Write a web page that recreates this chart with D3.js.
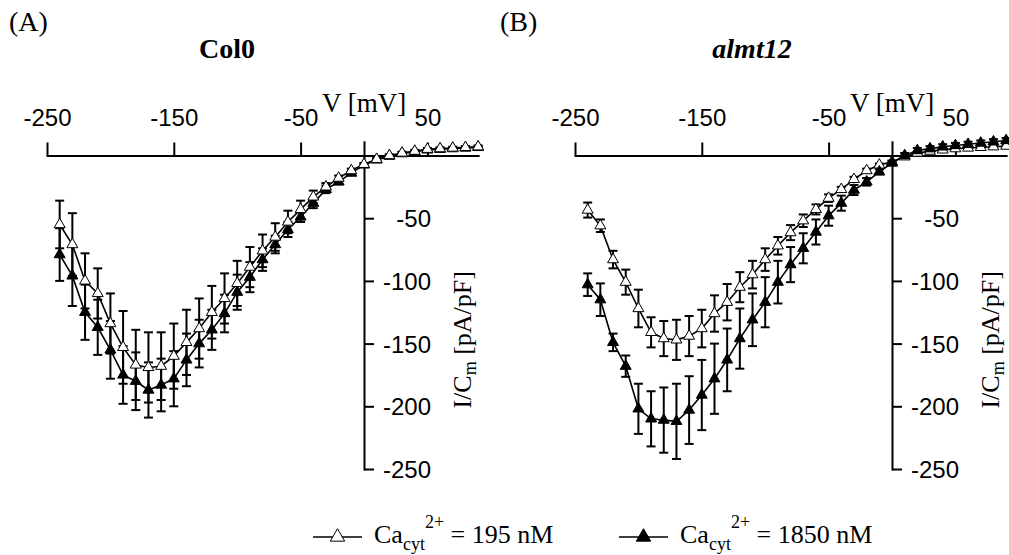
<!DOCTYPE html>
<html>
<head>
<meta charset="utf-8">
<script src="https://cdn.jsdelivr.net/npm/d3@7"></script>
<style>
  body { margin: 0; background: #fff; }
  svg { display: block; }
  .serif { font-family: "Liberation Serif", "Times New Roman", serif; fill: #000; }
  .tick text { font-family: "Liberation Sans", Arial, sans-serif; font-size: 24px; fill: #000; }
</style>
</head>
<body>
<div id="chart"></div>
<script>
// membrane voltage steps [mV]
const voltage = [-240, -230, -220, -210, -200, -190, -180, -170, -160, -150, -140, -130, -120, -110, -100,
  -90, -80, -70, -60, -50, -40, -30, -20, -10, 0, 10, 20, 30, 40, 50, 60, 70, 80, 90];

// Col0, Ca 195 nM (open triangles)
const col0Low = [-55, -71, -100, -110, -134, -153, -167, -169, -168, -160, -149, -138, -125, -114, -102,
  -89, -76, -65, -53, -43, -33, -25, -18, -12, -7, -3, 0, 2, 3.5, 5, 5.5, 6, 6.5, 7];
const col0LowErr = [19, 25, 22, 20, 24, 29, 28, 28, 27, 26, 26, 24, 21, 20, 18,
  16, 13, 11, 9, 7, 5, 3, 2, 1.5, 1, 1, 1, 1, 1, 1, 1, 1, 1, 1];
// Col0, Ca 1850 nM (filled triangles)
const col0High = [-79, -96, -125, -137, -155, -175, -180, -187, -183, -178, -163, -150, -139, -126, -109,
  -97, -83, -71, -59, -49, -38, -27, -21, -14, -7.5, -3.5, -0.5, 1.5, 3, 4.5, 5, 5.5, 6, 6.5];
const col0HighErr = [21, 24, 22, 22, 23, 23, 23, 22, 21, 22, 21, 19, 16, 15, 14,
  12, 9, 7, 6, 4, 4, 3, 2, 1.5, 1, 1, 1, 1, 1, 1, 1, 1, 1, 1];

// almt12, Ca 195 nM
const almLow = [-43.5, -56, -83, -101, -122, -141, -146, -147, -144, -138, -126, -117, -105, -95, -83,
  -72, -61.5, -52, -43, -34, -27, -19, -12, -7.5, -5, -1, 2, 3.5, 4.5, 5.5, 6, 6.5, 7, 7.5];
const almLowErr = [6, 5, 7, 10, 15, 12, 14, 16, 16, 15, 14.5, 14.5, 12, 11, 9,
  7, 6, 5, 4, 3, 2, 2, 1.5, 1, 1, 1, 1, 1, 1, 1, 1, 1, 1, 1];
// almt12, Ca 1850 nM
const almHigh = [-103, -115, -149, -168, -202, -210, -211, -212, -203, -191, -178, -163, -146, -131, -117,
  -101, -87, -74, -61, -48, -38, -27.5, -21, -13, -6, 0, 4, 5.5, 7, 8, 9, 10, 11, 12];
const almHighErr = [9, 13, 7, 8.5, 20, 22, 26, 30, 27, 28, 28, 25, 24, 21, 20,
  17, 14, 12, 10, 8, 6, 4, 3, 2, 1.5, 2, 2, 2, 2, 2, 2, 2, 2, 2];

const xTicks = [-250, -150, -50, 50];
const yTicks = [-50, -100, -150, -200, -250];

const width = 1009, height = 555;

const svg = d3.select('#chart')
  .append('svg')
  .attr('width', width)
  .attr('height', height);

// plain hyphen minus like the original figure
const fmt = d => String(d);

function drawSeries(g, x, y, vals, errs, filled) {
  const pts = voltage.map((v, i) => ({ v: v, m: vals[i], e: errs[i] }));
  const s = g.append('g');

  // error bars
  const bars = s.append('g')
    .attr('stroke', '#000')
    .attr('stroke-width', 2)
    .selectAll('g')
    .data(pts)
    .join('g');
  bars.append('line')
    .attr('x1', d => x(d.v)).attr('x2', d => x(d.v))
    .attr('y1', d => y(d.m - d.e)).attr('y2', d => y(d.m + d.e));
  bars.append('line')
    .attr('x1', d => x(d.v) - 4.5).attr('x2', d => x(d.v) + 4.5)
    .attr('y1', d => y(d.m + d.e)).attr('y2', d => y(d.m + d.e));
  bars.append('line')
    .attr('x1', d => x(d.v) - 4.5).attr('x2', d => x(d.v) + 4.5)
    .attr('y1', d => y(d.m - d.e)).attr('y2', d => y(d.m - d.e));

  // connecting line
  s.append('path')
    .datum(pts)
    .attr('fill', 'none')
    .attr('stroke', '#000')
    .attr('stroke-width', 1.6)
    .attr('d', d3.line().x(d => x(d.v)).y(d => y(d.m)));

  // triangles
  s.selectAll('path.pt')
    .data(pts)
    .join('path')
    .attr('class', 'pt')
    .attr('transform', d => `translate(${x(d.v)},${y(d.m)})`)
    .attr('d', d3.symbol(d3.symbolTriangle, 52))
    .attr('fill', filled ? '#000' : '#fff')
    .attr('stroke', '#000')
    .attr('stroke-width', 1);
}

function drawPanel(cfg) {
  const g = svg.append('g');

  const x = d3.scaleLinear().domain([-250, 90]).range([cfg.left, cfg.left + 340 * 1.268]);
  const y = d3.scaleLinear().domain([-250, 11]).range([469, 469 - 261 * 1.254]);

  // x axis at I = 0, ticks pointing up
  const xAxisG = g.append('g')
    .attr('transform', `translate(0,${y(0)})`)
    .call(d3.axisTop(x).tickValues(xTicks).tickSize(13).tickSizeOuter(0).tickFormat(fmt));
  xAxisG.selectAll('text').attr('y', -30);

  // y axis at V = 0, ticks pointing right
  const yAxisG = g.append('g')
    .attr('transform', `translate(${x(0)},0)`)
    .call(d3.axisRight(y).tickValues(yTicks).tickSize(10).tickSizeOuter(0).tickFormat(fmt));
  yAxisG.selectAll('text')
    .attr('x', 67)
    .attr('dy', '0.36em')
    .style('text-anchor', 'end');

  g.selectAll('.domain, .tick line').attr('stroke', '#000').attr('stroke-width', 2);
  g.selectAll('.domain').attr('stroke-linecap', 'square');

  // axis titles
  g.append('text')
    .attr('class', 'serif')
    .attr('x', x(0))
    .attr('y', 112)
    .attr('text-anchor', 'middle')
    .style('font-size', '27px')
    .text('V [mV]');

  const yl = g.append('text')
    .attr('class', 'serif')
    .attr('transform', `translate(${x(0) + 107},${y(-147)}) rotate(-90)`)
    .attr('text-anchor', 'middle')
    .style('font-size', '26px');
  yl.append('tspan').text('I/C');
  yl.append('tspan').attr('dy', 5).style('font-size', '18px').text('m');
  yl.append('tspan').attr('dy', -5).text(' [pA/pF]');

  // panel letter and title
  g.append('text')
    .attr('class', 'serif')
    .attr('x', cfg.letterX)
    .attr('y', 31)
    .style('font-size', '28px')
    .text(cfg.letter);
  g.append('text')
    .attr('class', 'serif')
    .attr('x', cfg.titleX)
    .attr('y', 58)
    .attr('text-anchor', 'middle')
    .style('font-size', '28px')
    .style('font-weight', 'bold')
    .style('font-style', cfg.italic ? 'italic' : 'normal')
    .text(cfg.title);

  const open = { vals: cfg.low, errs: cfg.lowErr, filled: false };
  const full = { vals: cfg.high, errs: cfg.highErr, filled: true };
  const order = cfg.filledOnTop ? [open, full] : [full, open];
  order.forEach(s => drawSeries(g, x, y, s.vals, s.errs, s.filled));
}

drawPanel({
  left: 47, letter: '(A)', letterX: 9, title: 'Col0', titleX: 227, italic: false,
  low: col0Low, lowErr: col0LowErr, high: col0High, highErr: col0HighErr, filledOnTop: false
});
drawPanel({
  left: 575, letter: '(B)', letterX: 500, title: 'almt12', titleX: 752, italic: true,
  low: almLow, lowErr: almLowErr, high: almHigh, highErr: almHighErr, filledOnTop: true
});

// legend
const legendItems = [
  { x: 313, filled: false, conc: '195' },
  { x: 619, filled: true, conc: '1850' }
];
const lg = svg.append('g').attr('transform', 'translate(0,537)');
legendItems.forEach(it => {
  const item = lg.append('g').attr('transform', `translate(${it.x},0)`);
  item.append('line')
    .attr('x1', 0).attr('x2', 49)
    .attr('stroke', '#000').attr('stroke-width', 1.5);
  item.append('path')
    .attr('transform', 'translate(24.5,0)')
    .attr('d', d3.symbol(d3.symbolTriangle, 90))
    .attr('fill', it.filled ? '#000' : '#fff')
    .attr('stroke', '#000')
    .attr('stroke-width', 1);
  const t = item.append('text')
    .attr('class', 'serif')
    .attr('x', 61)
    .attr('y', 6)
    .style('font-size', '26px');
  t.append('tspan').text('Ca');
  t.append('tspan').attr('dy', 7).style('font-size', '18px').text('cyt');
  t.append('tspan').attr('dy', -22).style('font-size', '18px').text('2+');
  t.append('tspan').attr('dy', 15).text(` = ${it.conc} nM`);
});
</script>
</body>
</html>
